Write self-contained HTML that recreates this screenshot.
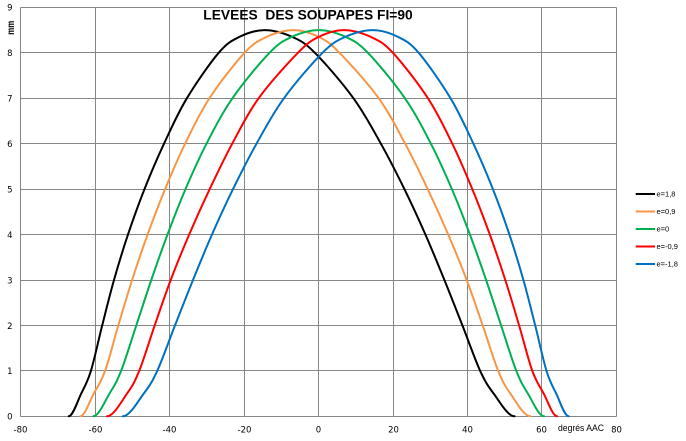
<!DOCTYPE html>
<html>
<head>
<meta charset="utf-8">
<style>
html,body{margin:0;padding:0;background:#fff;}
svg{display:block;}
.tk{font-family:"DejaVu Sans","Liberation Sans",sans-serif;font-size:8.5px;fill:#000;}
.lg{font-family:"Liberation Sans",sans-serif;font-size:7.5px;fill:#000;}
</style>
</head>
<body>
<svg width="686" height="441" viewBox="0 0 686 441" xmlns="http://www.w3.org/2000/svg">
<rect width="686" height="441" fill="#fff"/>
<g stroke="#868686" stroke-width="1" fill="none">
<line x1="20.5" y1="7.5" x2="20.5" y2="416.5"/>
<line x1="95.5" y1="7.5" x2="95.5" y2="416.5"/>
<line x1="169.5" y1="7.5" x2="169.5" y2="416.5"/>
<line x1="244.5" y1="7.5" x2="244.5" y2="416.5"/>
<line x1="318.5" y1="7.5" x2="318.5" y2="416.5"/>
<line x1="393.5" y1="7.5" x2="393.5" y2="416.5"/>
<line x1="467.5" y1="7.5" x2="467.5" y2="416.5"/>
<line x1="541.5" y1="7.5" x2="541.5" y2="416.5"/>
<line x1="616.5" y1="7.5" x2="616.5" y2="416.5"/>
<line x1="20.5" y1="7.5" x2="616.5" y2="7.5"/>
<line x1="20.5" y1="52.5" x2="616.5" y2="52.5"/>
<line x1="20.5" y1="98.5" x2="616.5" y2="98.5"/>
<line x1="20.5" y1="143.5" x2="616.5" y2="143.5"/>
<line x1="20.5" y1="189.5" x2="616.5" y2="189.5"/>
<line x1="20.5" y1="234.5" x2="616.5" y2="234.5"/>
<line x1="20.5" y1="280.5" x2="616.5" y2="280.5"/>
<line x1="20.5" y1="325.5" x2="616.5" y2="325.5"/>
<line x1="20.5" y1="370.5" x2="616.5" y2="370.5"/>
<line x1="20.5" y1="416.5" x2="616.5" y2="416.5"/>
</g>

<g class="tk" text-anchor="end">
<text x="12.5" y="10.5">9</text>
<text x="12.5" y="56">8</text>
<text x="12.5" y="101.5">7</text>
<text x="12.5" y="147">6</text>
<text x="12.5" y="192.5">5</text>
<text x="12.5" y="238">4</text>
<text x="12.5" y="283.5">3</text>
<text x="12.5" y="329">2</text>
<text x="12.5" y="374">1</text>
<text x="12.5" y="419.5">0</text>
</g>
<text transform="translate(14,27.8) rotate(-90)" text-anchor="middle" font-family="Liberation Sans, sans-serif" font-weight="bold" font-size="10" textLength="14" lengthAdjust="spacingAndGlyphs">mm</text>

<g class="tk" text-anchor="middle">
<text x="20.5" y="432.5">-80</text>
<text x="95.5" y="432.5">-60</text>
<text x="169.5" y="432.5">-40</text>
<text x="244.5" y="432.5">-20</text>
<text x="318.5" y="432.5">0</text>
<text x="393.5" y="432.5">20</text>
<text x="467.5" y="432.5">40</text>
<text x="541.5" y="432.5">60</text>
<text x="616.5" y="432.5">80</text>
</g>
<text x="558" y="431" font-family="Liberation Sans, sans-serif" font-size="9" textLength="46" lengthAdjust="spacingAndGlyphs">degrés AAC</text>

<text x="203.3" y="19.3" font-family="Liberation Sans, sans-serif" font-weight="bold" font-size="14" textLength="209.4" lengthAdjust="spacingAndGlyphs">LEVEES&#160; DES SOUPAPES FI=90</text>

<g fill="none" stroke-width="2" stroke-linejoin="round" stroke-linecap="round">
<path stroke="#000000" d="M68.7,416.3 C72.87,416.3 77.5,401.17 81.2,393.6 S87.4,382.27 90.9,370.9 S98.35,340.55 102.2,325.4 S109.7,295.15 114,280 S122.92,249.65 128,234.5 S138.5,204.23 144.5,189.1 S156.93,158.85 164,143.7 S177.78,113.35 186.9,98.2 S209.95,63.02 218.7,52.8 S231.77,40.68 239.4,36.9 S255.7,30.1 264.5,30.1 S283.8,33.12 292.2,36.9 S304.7,42.58 314.9,52.8 S342.4,83.05 353.4,98.2 S372.4,128.55 380.9,143.7 S396.98,173.97 404.4,189.1 S418.73,219.35 425.4,234.5 S438.23,264.85 444.4,280 S456.43,310.25 462.4,325.4 S474.98,359.53 480.2,370.9 S487.97,386.03 493.7,393.6 S507.63,416.3 514.6,416.3"/>
<path stroke="#f79646" d="M80.3,416.3 C84.77,416.3 89.57,401.17 93.7,393.6 S101,382.27 105.1,370.9 S113.8,340.55 118.3,325.4 S127.22,295.15 132.1,280 S142.1,249.65 147.6,234.5 S158.85,204.23 165.1,189.1 S177.7,158.85 185.1,143.7 S199.6,113.35 209.5,98.2 S234.98,63.02 244.5,52.8 S258.43,40.68 266.6,36.9 S284.82,30.1 293.5,30.1 S311.03,33.12 318.7,36.9 S329.5,42.58 339.5,52.8 S367.75,83.05 378.7,98.2 S397.03,128.55 405.2,143.7 S420.53,173.97 427.7,189.1 S441.7,219.35 448.2,234.5 S460.95,264.85 466.7,280 S477.45,310.25 482.7,325.4 S493.58,359.53 498.2,370.9 S505.03,386.03 510.4,393.6 S523.73,416.3 530.4,416.3"/>
<path stroke="#00b050" d="M93.3,416.3 C98.7,416.3 104.87,401.17 109.5,393.6 S116.63,382.27 121.1,370.9 S131.27,340.55 136.3,325.4 S146.1,295.15 151.3,280 S161.8,249.65 167.5,234.5 S179,204.23 185.5,189.1 S198.67,158.85 206.5,143.7 S222,113.35 232.5,98.2 S259.63,63.02 269.5,52.8 S283.5,40.68 291.7,36.9 S309.7,30.1 318.7,30.1 S337.5,33.12 345.7,36.9 S358.03,42.58 367.9,52.8 S394.4,83.05 404.9,98.2 S423.07,128.55 430.9,143.7 S445.4,173.97 451.9,189.1 S464.2,219.35 469.9,234.5 S480.9,264.85 486.1,280 S496.07,310.25 501.1,325.4 S511.83,359.53 516.3,370.9 S523.27,386.03 527.9,393.6 S538.7,416.3 544.1,416.3"/>
<path stroke="#ff0000" d="M107,416.3 C113.67,416.3 121.63,401.17 127,393.6 S134.58,382.27 139.2,370.9 S149.45,340.55 154.7,325.4 S164.95,295.15 170.7,280 S182.7,249.65 189.2,234.5 S202.53,204.23 209.7,189.1 S224.03,158.85 232.2,143.7 S247.75,113.35 258.7,98.2 S287.9,63.02 297.9,52.8 S311.03,40.68 318.7,36.9 S335.22,30.1 343.9,30.1 S362.63,33.12 370.8,36.9 S383.38,42.58 392.9,52.8 S418,83.05 427.9,98.2 S444.9,128.55 452.3,143.7 S466.05,173.97 472.3,189.1 S484.3,219.35 489.8,234.5 S500.42,264.85 505.3,280 S514.6,310.25 519.1,325.4 S528.2,359.53 532.3,370.9 S539.57,386.03 543.7,393.6 S552.63,416.3 557.1,416.3"/>
<path stroke="#0070c0" d="M122.8,416.3 C129.77,416.3 137.97,401.17 143.7,393.6 S151.98,382.27 157.2,370.9 S169.03,340.55 175,325.4 S186.83,295.15 193,280 S205.33,249.65 212,234.5 S225.58,204.23 233,189.1 S248,158.85 256.5,143.7 S273,113.35 284,98.2 S312.3,63.02 322.5,52.8 S336.8,40.68 345.2,36.9 S364.1,30.1 372.9,30.1 S390.37,33.12 398,36.9 S409.95,42.58 418.7,52.8 S441.38,83.05 450.5,98.2 S466.33,128.55 473.4,143.7 S486.9,173.97 492.9,189.1 S504.32,219.35 509.4,234.5 S519.1,264.85 523.4,280 S531.35,310.25 535.2,325.4 S543,359.53 546.5,370.9 S552.5,386.03 556.2,393.6 S564.53,416.3 568.7,416.3"/>
</g>

<g stroke-width="2">
<line x1="635.7" y1="194" x2="655" y2="194" stroke="#000000"/>
<line x1="635.7" y1="211.5" x2="655" y2="211.5" stroke="#f79646"/>
<line x1="635.7" y1="229" x2="655" y2="229" stroke="#00b050"/>
<line x1="635.7" y1="246.5" x2="655" y2="246.5" stroke="#ff0000"/>
<line x1="635.7" y1="264" x2="655" y2="264" stroke="#0070c0"/>
</g>
<g class="lg">
<text x="656.5" y="196.7">e=1,8</text>
<text x="656.5" y="214.2">e=0,9</text>
<text x="656.5" y="231.7">e=0</text>
<text x="656.5" y="249.2">e=-0,9</text>
<text x="656.5" y="266.7">e=-1,8</text>
</g>
</svg>
</body>
</html>
